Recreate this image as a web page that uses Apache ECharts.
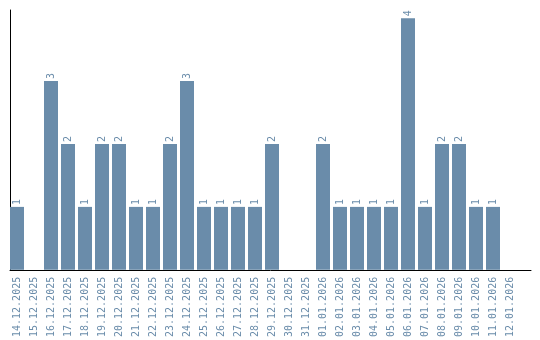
<!DOCTYPE html>
<html>
<head>
<meta charset="utf-8">
<script src="https://cdn.jsdelivr.net/npm/echarts@6/dist/echarts.min.js"></script>
<style>html,body{margin:0;padding:0;background:#fff}#c{width:540px;height:340px}</style>
</head>
<body>
<div id="c"></div>
<script>
const categories = ["14.12.2025","15.12.2025","16.12.2025","17.12.2025","18.12.2025","19.12.2025","20.12.2025","21.12.2025","22.12.2025","23.12.2025","24.12.2025","25.12.2025","26.12.2025","27.12.2025","28.12.2025","29.12.2025","30.12.2025","31.12.2025","01.01.2026","02.01.2026","03.01.2026","04.01.2026","05.01.2026","06.01.2026","07.01.2026","08.01.2026","09.01.2026","10.01.2026","11.01.2026","12.01.2026"];
const values = [1,0,3,2,1,2,2,1,1,2,3,1,1,1,1,2,0,0,2,1,1,1,1,4,1,2,2,1,1,0];

const barColor = '#6a8caa';
const textColor = '#6a8caa';
const chart = echarts.init(document.getElementById('c'), null, {renderer:'canvas'});
chart.setOption({
  animation:false,
  grid:[
    {left:8.5, width:510, top:10, height:260},
    {left:10, right:9, top:10, height:260}
  ],
  xAxis:[
    {type:'category', gridIndex:0, data:categories, axisLine:{show:false}, axisTick:{show:false},
     axisLabel:{rotate:90, interval:0, margin:7, color:textColor, fontFamily:'DejaVu Sans Mono', fontSize:10}},
    {type:'value', gridIndex:1, min:0, max:1, axisLine:{show:true, onZero:false, lineStyle:{color:'#000', width:1}},
     axisTick:{show:false}, axisLabel:{show:false}, splitLine:{show:false}}
  ],
  yAxis:[
    {type:'value', gridIndex:0, min:0, max:4.13, show:false},
    {type:'value', gridIndex:1, min:0, max:1, axisLine:{show:true, onZero:false, lineStyle:{color:'#000', width:1}},
     axisTick:{show:false}, axisLabel:{show:false}, splitLine:{show:false}}
  ],
  series:[{
    type:'bar', xAxisIndex:0, yAxisIndex:0, data:values, barWidth:14,
    itemStyle:{color:barColor},
    label:{show:true, position:'top', rotate:90, distance:2, align:'left', verticalAlign:'middle',
      color:textColor, fontFamily:'DejaVu Sans Mono', fontSize:10,
      formatter:p => p.value > 0 ? String(p.value) : ''}
  }]
});
</script>
</body>
</html>
